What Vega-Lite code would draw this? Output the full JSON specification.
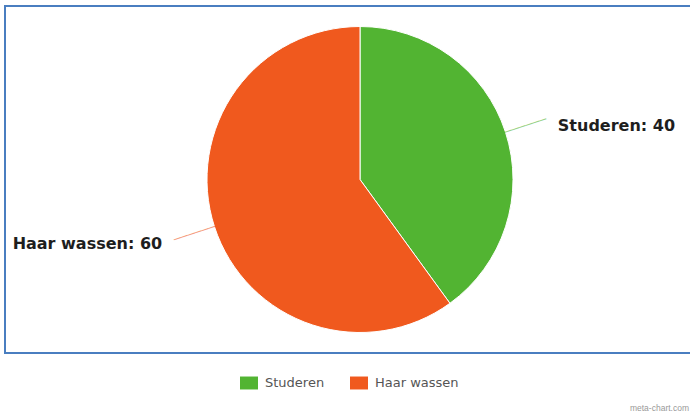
{
  "$schema": "https://vega.github.io/schema/vega-lite/v6.json",
  "width": 710,
  "height": 347,
  "autosize": {"type": "none"},
  "padding": {"left": 5, "top": 6, "right": -25, "bottom": 63},
  "background": "white",
  "title": {"text": "meta-chart.com", "orient": "bottom", "anchor": "end", "frame": "group", "offset": 18, "dx": -26, "baseline": "middle", "font": "Liberation Sans", "fontSize": 8.5, "fontWeight": "normal", "color": "#999999"},
  "config": {"view": {"stroke": null}},
  "data": {"values": [
    {"category": "Studeren", "value": 40, "label": "Studeren: 40"},
    {"category": "Haar wassen", "value": 60, "label": "Haar wassen: 60"}
  ]},
  "encoding": {
    "theta": {"field": "value", "type": "quantitative", "stack": true},
    "order": {"field": "value", "type": "quantitative", "sort": "ascending"},
    "detail": {"field": "category", "type": "nominal"}
  },
  "layer": [
    {
      "mark": {"type": "rect", "fill": "transparent", "stroke": "#4a7ec0", "strokeWidth": 2},
      "encoding": {"theta": null, "order": null}
    },
    {
      "mark": {"type": "arc", "radius": 153, "stroke": "white", "strokeWidth": 1},
      "encoding": {
        "color": {
          "field": "category", "type": "nominal",
          "scale": {"domain": ["Studeren", "Haar wassen"], "range": ["#52b432", "#f0591e"]},
          "legend": {"orient": "none", "legendX": 235, "legendY": 368, "direction": "horizontal", "title": null, "symbolType": "M-1,-0.72H1V0.72H-1Z", "symbolSize": 324, "symbolStrokeWidth": 0, "labelFont": "DejaVu Sans", "labelFontSize": 13, "labelColor": "#555555", "labelOffset": 7, "columnPadding": 25, "padding": 0}
        }
      }
    },
    {
      "mark": {"type": "text", "radius": 174, "angle": -18, "text": "──────", "font": "DejaVu Sans Mono", "fontSize": 12, "opacity": 0.6, "align": "center", "baseline": "middle"},
      "encoding": {"color": {"field": "category", "type": "nominal", "legend": null}}
    },
    {
      "mark": {"type": "text", "radius": 208, "font": "DejaVu Sans", "fontSize": 16, "fontWeight": "bold", "color": "#1e1e1e", "baseline": "middle", "align": {"expr": "datum.category === 'Studeren' ? 'left' : 'right'"}, "dy": {"expr": "datum.category === 'Studeren' ? 11 : 0"}},
      "encoding": {"text": {"field": "label", "type": "nominal"}}
    }
  ]
}
